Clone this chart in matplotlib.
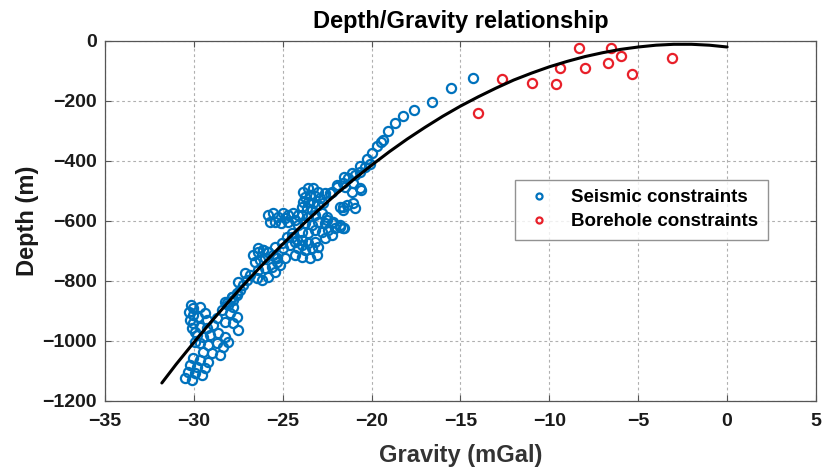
import matplotlib
matplotlib.use("Agg")
import matplotlib.pyplot as plt

plt.rcParams['font.family'] = ['Liberation Sans', 'DejaVu Sans']

# Seismic constraints (gravity mGal, depth m)
seismic_g = [
    -14.32, -15.56, -16.63, -17.60, -18.22, -18.69, -19.07, -19.35, -19.48, -19.72,
    -19.97, -20.28, -20.66, -21.09, -21.56, -21.97, -22.35,
    -20.60, -21.13, -21.03, -21.60, -21.50, -21.03, -20.66,
    -21.78, -21.41, -20.94, -21.60,
    -22.63, -22.25, -21.97, -21.60, -21.31, -20.94, -20.66, -20.38, -20.10,
    -23.85, -23.57, -23.28, -23.00, -23.75, -23.47, -23.19, -22.91, -23.85, -23.57,
    -23.28, -23.00, -22.72, -23.94, -23.66, -23.38,
    -25.81, -25.53, -25.25, -24.97, -24.69, -24.41, -24.13, -25.72, -25.44, -25.07,
    -24.69, -24.31, -24.88,
    -23.94, -23.57, -23.19, -22.81, -22.53, -24.13, -23.75, -23.38, -23.00, -22.63,
    -22.25, -23.94, -23.57, -23.19, -22.81, -22.44, -22.06, -21.78, -21.60,
    -22.53, -22.16, -21.78, -21.54, -22.63, -22.25,
    -24.31, -23.94, -23.57, -23.19, -24.13, -23.75, -23.38, -23.00, -24.31, -23.94,
    -23.47, -23.10, -24.50,
    -26.38, -26.10, -25.82, -25.44, -25.06, -25.44, -24.88,
    -26.66, -26.38, -26.10, -25.81, -25.53, -25.34, -26.56, -26.28, -26.00,
    -26.38, -26.00, -25.62, -25.34, -26.47, -26.19, -25.81, -25.44, -25.16,
    -28.06, -27.78, -27.60, -27.41, -27.22, -27.03, -26.84, -27.13, -27.50, -27.87,
    -28.25,
    -24.78, -24.50, -24.22, -23.94, -24.60, -24.97,
    -30.18, -30.03, -30.25, -30.07, -30.22, -30.03, -30.12, -29.94,
    -27.87, -27.60, -28.16, -27.78, -28.44, -27.97, -27.60, -28.72, -28.25, -27.78,
    -27.50,
    -29.66, -29.28, -28.91, -29.84, -29.47, -29.10, -28.63, -28.25, -29.66, -29.19,
    -28.72, -28.35, -28.07, -29.47, -29.00, -28.53, -29.94,
    -30.03, -29.66, -29.19, -30.22, -29.84, -29.38, -30.31, -29.94, -29.56, -30.50,
    -30.12,
    -29.66, -29.38, -29.75, -29.28,
]
seismic_d = [
    -122, -158, -202, -229, -249, -274, -299, -330, -336, -350,
    -372, -393, -416, -439, -454, -480, -508,
    -497, -502, -541, -552, -486, -474, -491,
    -552, -547, -558, -563,
    -508, -502, -486, -474, -458, -447, -436, -419, -410,
    -502, -491, -491, -502, -519, -513, -517, -524, -536, -536,
    -541, -547, -541, -552, -558, -563,
    -580, -574, -586, -574, -580, -574, -580, -602, -602, -608,
    -602, -597, -591,
    -580, -586, -580, -574, -586, -613, -608, -613, -602, -608,
    -608, -636, -641, -630, -636, -630, -624, -619, -624,
    -597, -602, -613, -624, -658, -647,
    -669, -663, -674, -669, -691, -697, -691, -686, -713, -719,
    -724, -713, -652,
    -691, -697, -702, -686, -674, -719, -724,
    -713, -702, -697, -702, -713, -724, -736, -730, -724,
    -763, -758, -752, -736, -791, -797, -786, -769, -747,
    -880, -863, -847, -830, -813, -797, -780, -774, -802, -852,
    -869,
    -652, -641, -663, -680, -680, -691,
    -880, -891, -902, -913, -930, -941, -958, -969,
    -852, -841, -874, -886, -897, -908, -919, -924, -936, -941,
    -963,
    -952, -958, -947, -980, -986, -980, -974, -986, -1008, -1013,
    -1008, -1019, -1002, -1036, -1041, -1047, -1002,
    -1058, -1063, -1069, -1080, -1086, -1091, -1102, -1108, -1113, -1124,
    -1130,
    -886, -908, -919, -930,
]

# Borehole constraints
borehole_g = [-14.0, -12.65, -10.96, -9.61, -9.40, -8.34, -7.99, -6.56, -6.71, -5.98, -5.34, -3.08]
borehole_d = [-239, -127, -141, -144, -89, -22, -89, -24, -73, -51, -109, -56]

# Fitted depth/gravity relationship
fit_g = [-31.8, -31, -30, -29, -28, -27, -26, -25, -24, -23, -22, -21, -20, -19, -18,
         -17, -16, -15, -14, -13, -12, -11, -10, -9, -8, -7, -6, -5, -4, -3, -2, -1, 0]
fit_d = [-1140, -1078, -1005, -934, -866, -800, -737, -677, -619, -564, -511, -461,
         -414, -369, -327, -288, -251, -217, -186, -157, -130, -107, -86, -68, -52,
         -39, -28, -20, -14, -11, -11, -14, -20]

x_ticks = [-35, -30, -25, -20, -15, -10, -5, 0, 5]
y_ticks = [-1200, -1000, -800, -600, -400, -200, 0]

fig = plt.figure(figsize=(8.22, 4.68), dpi=100)
ax = fig.add_axes([0.1277, 0.1432, 0.8650, 0.7692])

blue = '#0072BD'
red = '#E8202A'

ax.plot(seismic_g, seismic_d, linestyle='none', marker='o', markersize=6.6,
        markerfacecolor='none', markeredgecolor=blue, markeredgewidth=1.6,
        label='Seismic constraints', zorder=3)
ax.plot(borehole_g, borehole_d, linestyle='none', marker='o', markersize=6.6,
        markerfacecolor='none', markeredgecolor=red, markeredgewidth=1.6,
        label='Borehole constraints', zorder=3)
ax.plot(fit_g, fit_d, color='black', linewidth=2.2, zorder=4,
        solid_joinstyle='round', solid_capstyle='round')

ax.set_xlim(-35, 5)
ax.set_ylim(-1200, 0)
ax.set_xticks(x_ticks)
ax.set_yticks(y_ticks)
ax.grid(True, color='#b0b0b0', linestyle=(0, (2.5, 2.5)), linewidth=0.8)
ax.set_axisbelow(True)
ax.tick_params(direction='in', top=True, right=True, length=4, width=0.8,
               color='#555555', labelsize=14)
ax.tick_params(axis='x', pad=9)
ax.tick_params(axis='y', pad=6)
for lab in ax.get_xticklabels() + ax.get_yticklabels():
    lab.set_fontweight('bold')
    lab.set_color('#1a1a1a')
for sp in ax.spines.values():
    sp.set_color('#555555')
    sp.set_linewidth(0.9)

ax.set_xlabel('Gravity (mGal)', fontsize=17, fontweight='bold', color='#333333', labelpad=10)
ax.set_ylabel('Depth (m)', fontsize=17, fontweight='bold', color='#1a1a1a', labelpad=2)
ax.set_title('Depth/Gravity relationship', fontsize=17, fontweight='bold', pad=9)

leg = ax.legend(loc='upper left', bbox_to_anchor=(0.577, 0.614),
                prop={'weight': 'bold', 'size': 13.5}, markerscale=0.66,
                frameon=True, fancybox=False, edgecolor='#777777', borderaxespad=0,
                handlelength=1.5, handletextpad=1.0, borderpad=0.5, labelspacing=0.35)
leg.get_frame().set_linewidth(1.0)

fig.savefig('out.png', dpi=100)
